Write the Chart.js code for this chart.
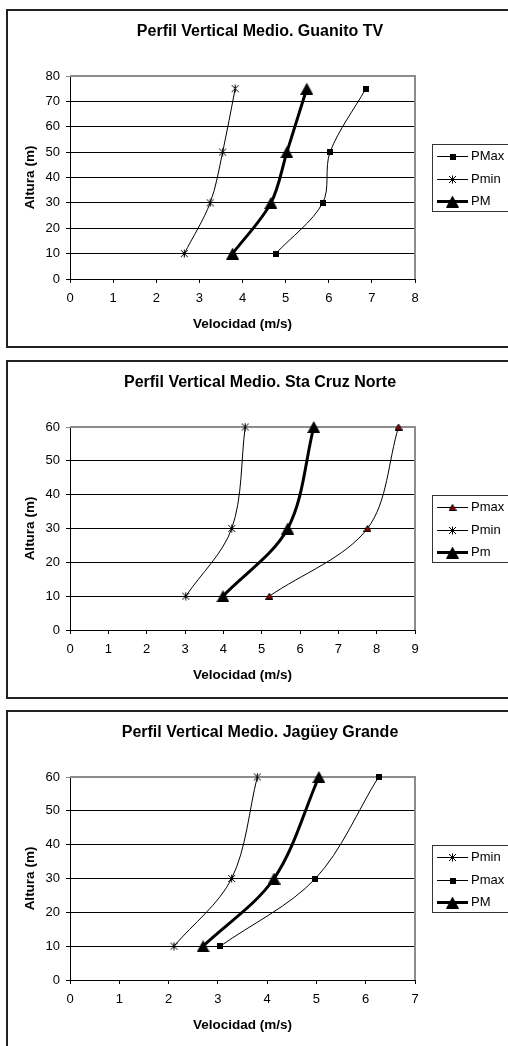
<!DOCTYPE html>
<html>
<head>
<meta charset="utf-8">
<title>Perfil Vertical Medio</title>
<script src="https://cdn.jsdelivr.net/npm/chart.js@4.4.1/dist/chart.umd.min.js"></script>
<style>
  html, body { margin: 0; padding: 0; background: #fff; overflow: hidden; }
  body { width: 508px; height: 1046px; position: relative; }
  .frame { position: absolute; left: 6px; width: 600px; height: 339px; border: 2px solid #222; box-sizing: border-box; }
  .panel { position: absolute; left: 0; width: 508px; height: 339px; }
</style>
</head>
<body>
<div class="frame" style="top:9px"></div>
<div class="panel" style="top:9px"><canvas id="chart1" width="508" height="339"></canvas></div>
<div class="frame" style="top:360px"></div>
<div class="panel" style="top:360px"><canvas id="chart2" width="508" height="339"></canvas></div>
<div class="frame" style="top:710px"></div>
<div class="panel" style="top:710px"><canvas id="chart3" width="508" height="339"></canvas></div>
<script>
const FONT = "'Liberation Sans', Arial, sans-serif";

// Guanito TV
const guanitoHeights = [10, 30, 50, 75];
const guanitoPMax = [4.77, 5.86, 6.03, 6.86];
const guanitoPmin = [2.65, 3.25, 3.54, 3.83];
const guanitoPM = [3.77, 4.66, 5.03, 5.49];

// Sta Cruz Norte
const cruzHeights = [10, 30, 60];
const cruzPmax = [5.20, 7.76, 8.57];
const cruzPmin = [3.02, 4.22, 4.57];
const cruzPm = [3.99, 5.68, 6.36];

// Jagüey Grande
const jagueyHeights = [10, 30, 60];
const jagueyPmin = [2.11, 3.28, 3.80];
const jagueyPmax = [3.05, 4.98, 6.26];
const jagueyPM = [2.70, 4.14, 5.05];

const xMaxes = [8, 9, 7];
const yMaxes = [80, 60, 60];

function makeMarker(w, h, draw) {
    const c = document.createElement('canvas');
    c.width = w;
    c.height = h;
    draw(c.getContext('2d'));
    return c;
}

const squareMark = makeMarker(6, 6, function (ctx) {
    ctx.fillStyle = '#000';
    ctx.fillRect(0, 0, 6, 6);
});
const starMark = makeMarker(9, 9, function (ctx) {
    ctx.strokeStyle = '#000';
    ctx.lineWidth = 1;
    ctx.beginPath();
    ctx.moveTo(1, 1); ctx.lineTo(8, 8);
    ctx.moveTo(8, 1); ctx.lineTo(1, 8);
    ctx.moveTo(4.5, 0.5); ctx.lineTo(4.5, 8.5);
    ctx.stroke();
});
const bigTriangle = makeMarker(13, 12, function (ctx) {
    ctx.fillStyle = '#000';
    ctx.beginPath();
    ctx.moveTo(6.5, 0); ctx.lineTo(13, 12); ctx.lineTo(0, 12);
    ctx.closePath();
    ctx.fill();
});
const redTriangle = makeMarker(8, 7, function (ctx) {
    ctx.fillStyle = '#8b0000';
    ctx.strokeStyle = '#000';
    ctx.lineWidth = 1;
    ctx.beginPath();
    ctx.moveTo(4, 0.5); ctx.lineTo(7.5, 6.5); ctx.lineTo(0.5, 6.5);
    ctx.closePath();
    ctx.fill();
    ctx.stroke();
});

function series(label, xs, ys, marker, width) {
    return {
        label: label,
        data: xs.map(function (v, i) { return { x: v, y: ys[i] }; }),
        borderColor: '#000',
        backgroundColor: '#000',
        borderWidth: width,
        pointStyle: marker,
        pointRadius: 5,
        tension: 0.33,
        fill: false,
        clip: false
    };
}

// plot border, title and the boxed legend on the right
const frameDecor = {
    id: 'frameDecor',
    beforeDatasetsDraw(chart) {
        const ctx = chart.ctx;
        const a = chart.chartArea;
        ctx.save();
        ctx.strokeStyle = '#8c8c8c';
        ctx.lineWidth = 2;
        ctx.beginPath();
        ctx.moveTo(a.left, a.top);
        ctx.lineTo(a.right, a.top);
        ctx.lineTo(a.right, a.bottom);
        ctx.stroke();
        ctx.restore();
    },
    afterDraw(chart, args, opts) {
        const ctx = chart.ctx;
        ctx.save();
        ctx.fillStyle = '#000';
        ctx.font = 'bold 16px ' + FONT;
        ctx.textAlign = 'center';
        ctx.textBaseline = 'middle';
        ctx.fillText(opts.title, 260, 23);

        ctx.strokeStyle = '#333';
        ctx.lineWidth = 1;
        ctx.strokeRect(432.5, 135.5, 120, 67);

        ctx.font = '13px ' + FONT;
        ctx.textAlign = 'left';
        chart.data.datasets.forEach(function (ds, i) {
            const y = Math.round(147 + i * 22.5) + 0.5;
            ctx.strokeStyle = '#000';
            ctx.lineWidth = ds.borderWidth;
            ctx.beginPath();
            ctx.moveTo(437, y);
            ctx.lineTo(468, y);
            ctx.stroke();
            const m = ds.pointStyle;
            ctx.drawImage(m, 452.5 - m.width / 2, y - m.height / 2);
            ctx.fillText(ds.label, 471, y);
        });
        ctx.restore();
    }
};

function createProfileChart(id, title, xMax, yMax, datasets) {
    const ctx = document.getElementById(id).getContext('2d');
    const tickFont = { family: FONT, size: 13 };
    const titleFont = { family: FONT, size: 13.5, weight: 'bold' };
    return new Chart(ctx, {
        type: 'line',
        data: { datasets: datasets },
        plugins: [frameDecor],
        options: {
            responsive: false,
            animation: false,
            events: [],
            layout: { padding: { top: 67, right: 93, bottom: 0, left: 0 } },
            plugins: {
                legend: { display: false },
                tooltip: { enabled: false },
                frameDecor: { title: title }
            },
            scales: {
                x: {
                    type: 'linear',
                    min: 0,
                    max: xMax,
                    afterFit: function (s) { s.height = 69; },
                    ticks: { stepSize: 1, autoSkip: false, maxRotation: 0, padding: 8, color: '#000', font: tickFont },
                    grid: { drawOnChartArea: false, drawTicks: true, tickLength: 4, tickColor: '#000' },
                    border: { color: '#000', width: 1 },
                    title: { display: true, text: 'Velocidad (m/s)', color: '#000', font: titleFont, padding: 16 }
                },
                y: {
                    min: 0,
                    max: yMax,
                    afterFit: function (s) { s.width = 70; },
                    ticks: { stepSize: 10, padding: 6, color: '#000', font: tickFont },
                    grid: {
                        color: function (c) { return c.tick && c.tick.value === yMax ? '#8c8c8c' : '#000'; },
                        tickColor: function (c) { return c.tick && c.tick.value === yMax ? '#8c8c8c' : '#000'; },
                        tickLength: 4,
                        lineWidth: 1
                    },
                    border: { color: '#000', width: 1 },
                    title: { display: true, text: 'Altura (m)', color: '#000', font: titleFont, padding: 22 }
                }
            }
        }
    });
}

createProfileChart('chart1', 'Perfil Vertical Medio. Guanito TV', xMaxes[0], yMaxes[0], [
    series('PMax', guanitoPMax, guanitoHeights, squareMark, 1),
    series('Pmin', guanitoPmin, guanitoHeights, starMark, 1),
    series('PM', guanitoPM, guanitoHeights, bigTriangle, 3)
]);

createProfileChart('chart2', 'Perfil Vertical Medio. Sta Cruz Norte', xMaxes[1], yMaxes[1], [
    series('Pmax', cruzPmax, cruzHeights, redTriangle, 1),
    series('Pmin', cruzPmin, cruzHeights, starMark, 1),
    series('Pm', cruzPm, cruzHeights, bigTriangle, 3)
]);

createProfileChart('chart3', 'Perfil Vertical Medio. Jagüey Grande', xMaxes[2], yMaxes[2], [
    series('Pmin', jagueyPmin, jagueyHeights, starMark, 1),
    series('Pmax', jagueyPmax, jagueyHeights, squareMark, 1),
    series('PM', jagueyPM, jagueyHeights, bigTriangle, 3)
]);
</script>
</body>
</html>
